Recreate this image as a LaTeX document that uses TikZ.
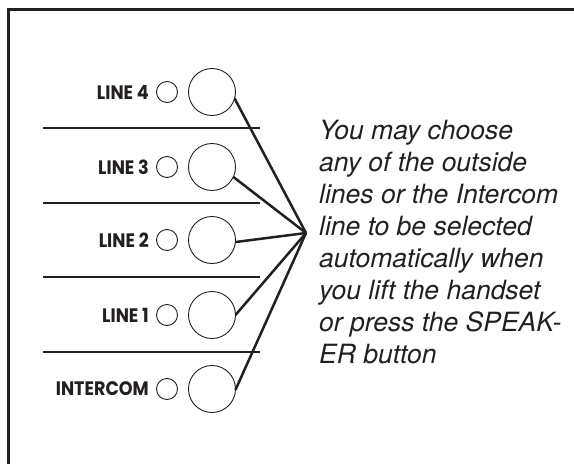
\documentclass[tikz,border=0pt]{standalone}
\usepackage{fontspec}
\newfontfamily\notefont{TeX Gyre Heros}
\newfontfamily\keyfont{Poppins}[FakeStretch=0.9]
\definecolor{ink}{HTML}{231F20}

\begin{document}
\begin{tikzpicture}[x=1pt,y=-1pt]
\tikzstyle{lamp}=[circle, draw=ink, line width=0.9pt, minimum size=21pt, inner sep=0pt, outer sep=0pt]
\tikzstyle{button}=[circle, draw=ink, line width=0.9pt, minimum size=47pt, inner sep=0pt, outer sep=0pt]
\tikzstyle{key}=[anchor=east, inner sep=0pt, text=ink, font=\keyfont\bfseries\fontsize{19.5}{19.5}\selectfont]
\tikzstyle{wire}=[ink, line width=2.5pt]
\tikzstyle{divider}=[ink, line width=2.3pt]
\useasboundingbox (0,0) rectangle (574,464);
\draw[ink, line width=3pt] (8,464) -- (8,9) -- (574,9);

\node[key] (k4) at (149,92) {LINE 4};
\node[lamp] (l4) at (167,92) {};
\node[button] (b4) at (212,92) {};
\node[key] (k3) at (149,167) {LINE 3};
\node[lamp] (l3) at (167,167) {};
\node[button] (b3) at (212,167) {};
\node[key] (k2) at (149,240) {LINE 2};
\node[lamp] (l2) at (167,240) {};
\node[button] (b2) at (212,240) {};
\node[key] (k1) at (149,315) {LINE 1};
\node[lamp] (l1) at (167,315) {};
\node[button] (b1) at (212,315) {};
\node[key] (ki) at (149,389) {INTERCOM};
\node[lamp] (li) at (167,389) {};
\node[button] (bi) at (212,389) {};

\draw[divider] (43,128) -- (260,128);
\draw[divider] (43,203) -- (260,203);
\draw[divider] (43,277) -- (260,277);
\draw[divider] (43,352) -- (260,352);

\coordinate (hub) at (306,233);
\draw[wire] (b4.-16) -- (hub);
\draw[wire] (b3.-25) -- (hub);
\draw[wire] (b2.-5) -- (hub);
\draw[wire] (b1.0) -- (hub);
\draw[wire] (bi.-2) -- (hub);

\node[anchor=north west, inner sep=0pt, align=left, text=ink, font=\notefont\itshape\fontsize{26.5}{32}\selectfont] (note) at (319,120) {You may choose\\any of the outside\\lines or the Intercom\\line to be selected\\automatically when\\you lift the handset\\or press the SPEAK-\\ER button};
\end{tikzpicture}
\end{document}
